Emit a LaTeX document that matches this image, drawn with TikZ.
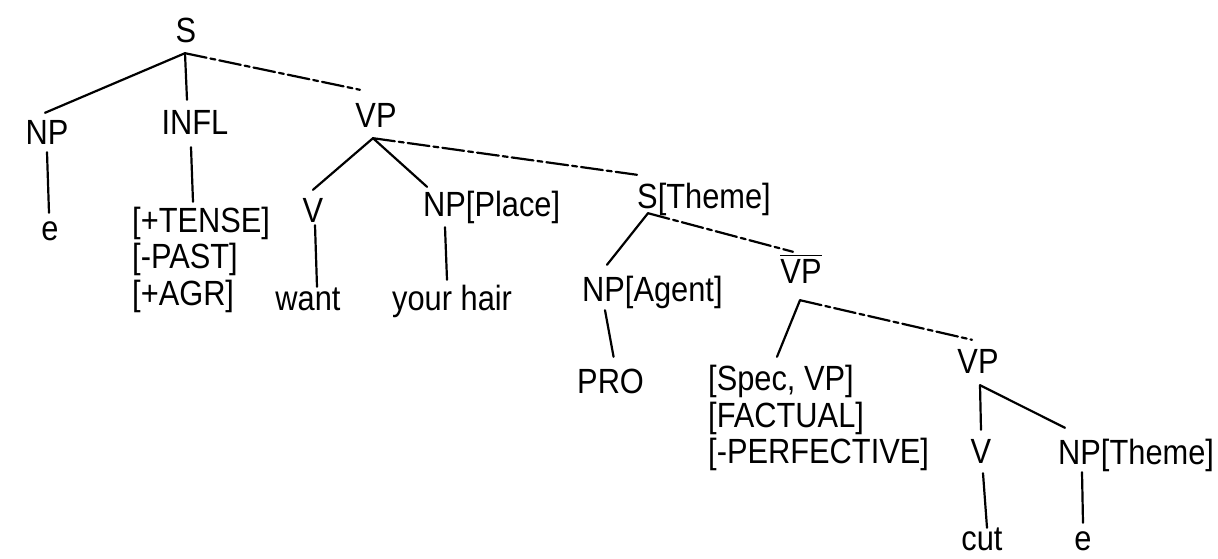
\documentclass[tikz,border=0pt]{standalone}
\usepackage{fontspec}
\setmainfont{Liberation Sans}[FakeStretch=0.88]
% category with a bar over it
\newcommand{\barcat}[1]{\leavevmode\vbox{\hrule height 1.8pt\kern2.5pt\hbox{#1}}}
\begin{document}
\begin{tikzpicture}[x=1pt,y=-1pt,
  lab/.style={inner sep=0pt, text height=25pt, text depth=0pt,
              font=\fontsize{35}{36.5}\selectfont},
  edge/.style={line width=2.2pt, line cap=round},
  brk/.style={edge, dash pattern=on 22pt off 4pt on 5pt off 4pt}]
\useasboundingbox (0,0) rectangle (1218,559);

% labels
\node[lab,anchor=base] (s) at (186,43) {S};
\node[lab,anchor=base] (np) at (47,145) {NP};
\node[lab,anchor=base] (infl) at (195,135) {INFL};
\node[lab,anchor=base] (e1) at (50,240) {e};
\node[lab,anchor=base west] (t1) at (132,232) {[+TENSE]};
\node[lab,anchor=base west] (t2) at (132,268) {[-PAST]};
\node[lab,anchor=base west] (t3) at (132,305) {[+AGR]};
\node[lab,anchor=base] (vp) at (376,128) {VP};
\node[lab,anchor=base] (v) at (313,222) {V};
\node[lab,anchor=base] (want) at (308,310) {want};
\node[lab,anchor=base west] (npplace) at (423,216) {NP[Place]};
\node[lab,anchor=base west] (hair) at (392,310) {your hair};
\node[lab,anchor=base west] (stheme) at (637,208) {S[Theme]};
\node[lab,anchor=base west] (npagent) at (582,301) {NP[Agent]};
\node[lab,anchor=base west] (pro) at (577,393) {PRO};
\node[lab,anchor=base] (vpbar) at (801,283) {\barcat{VP}};
\node[lab,anchor=base west] (sp1) at (708,390) {[Spec, VP]};
\node[lab,anchor=base west] (sp2) at (708,427) {[FACTUAL]};
\node[lab,anchor=base west] (sp3) at (708,463) {[-PERFECTIVE]};
\node[lab,anchor=base] (vp2) at (978,373) {VP};
\node[lab,anchor=base] (v2) at (981,463) {V};
\node[lab,anchor=base west] (nptheme) at (1058,464) {NP[Theme]};
\node[lab,anchor=base] (cut) at (982,550) {cut};
\node[lab,anchor=base] (e2) at (1083,550) {e};

% branches
\draw[edge] ([xshift=-1pt,yshift=-10pt]s.south) -- ([xshift=-2pt,yshift=7pt]np.north);
\draw[edge] ([xshift=-1pt,yshift=-10pt]s.south) -- ([xshift=-8pt,yshift=10pt]infl.north);
\draw[brk]  ([xshift=-1pt,yshift=-10pt]s.south) -- ([xshift=-16pt,yshift=13pt]vp.north);
\draw[edge] ([yshift=-7pt]np.south) -- ([xshift=-1pt,yshift=2pt]e1.north);
\draw[edge] ([xshift=-4pt,yshift=-12pt]infl.south) -- ([xshift=61pt,yshift=5pt]t1.north west);
\draw[edge] ([xshift=-3pt,yshift=-10pt]vp.south) -- ([yshift=7pt]v.north);
\draw[edge] ([xshift=-3pt,yshift=-10pt]vp.south) -- ([xshift=4pt,yshift=4pt]npplace.north west);
\draw[brk]  ([xshift=-3pt,yshift=-10pt]vp.south) -- ([yshift=8pt]stheme.north west);
\draw[edge] ([xshift=2pt,yshift=-3pt]v.south) -- ([xshift=9pt,yshift=-2pt]want.north);
\draw[edge] ([xshift=22pt,yshift=-11pt]npplace.south west) -- ([xshift=55pt,yshift=5pt]hair.north west);
\draw[edge] ([xshift=11pt,yshift=-5pt]stheme.south west) -- ([xshift=25pt,yshift=11pt]npagent.north west);
\draw[brk]  ([xshift=11pt,yshift=-5pt]stheme.south west) -- ([xshift=-8pt,yshift=6pt]vpbar.north);
\draw[edge] ([xshift=23pt,yshift=-9pt]npagent.south west) -- ([xshift=3pt,yshift=11pt]pro.north);
\draw[edge] ([xshift=-1pt,yshift=-17pt]vpbar.south) -- ([xshift=69pt,yshift=8pt]sp1.north west);
\draw[brk]  ([xshift=-1pt,yshift=-17pt]vpbar.south) -- ([xshift=-6pt,yshift=8pt]vp2.north);
\draw[edge] ([xshift=2pt,yshift=-12pt]vp2.south) -- ([yshift=8pt]v2.north);
\draw[edge] ([xshift=2pt,yshift=-12pt]vp2.south) -- ([xshift=7pt,yshift=11pt]nptheme.north west);
\draw[edge] ([xshift=2pt,yshift=-10pt]v2.south) -- ([xshift=5pt,yshift=-3pt]cut.north);
\draw[edge] ([xshift=24pt,yshift=-8pt]nptheme.south west) -- ([yshift=2pt]e2.north);
\end{tikzpicture}
\end{document}
